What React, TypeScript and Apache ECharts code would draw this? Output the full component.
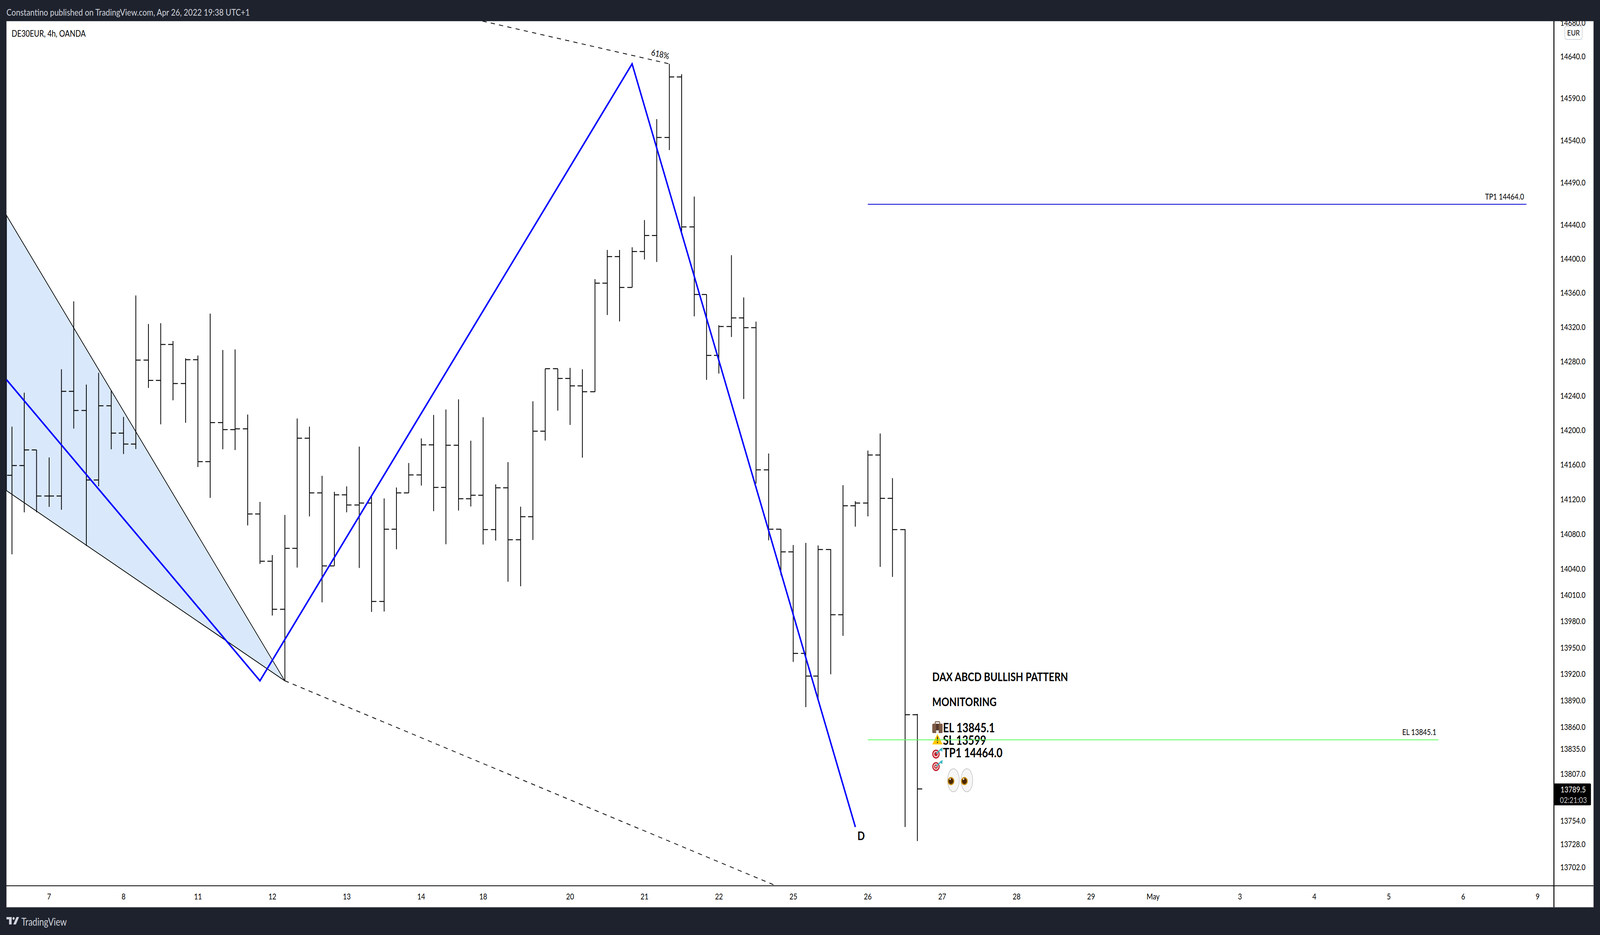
import { useEffect, useRef } from 'react'
import * as echarts from 'echarts'

// 4h bars, one per x index
const opens = [
  14147.4, 14158.5, 14176.8, 14123.6, 14123.6, 14244.9, 14222.3, 14142.0, 14227.9, 14196.0,
  14183.4, 14280.9, 14257.4, 14299.3, 14253.7, 14281.6, 14163.0, 14208.2, 14200.2, 14201.0,
  14102.6, 14048.3, 13993.6, 14063.1, 14190.4, 14127.0, 14043.2, 14124.7, 14113.0, 14115.2,
  14002.3, 14085.1, 14127.2, 14147.7, 14182.5, 14133.5, 14182.2, 14120.2, 14124.3, 14084.6,
  14132.8, 14073.2, 14099.7, 14198.4, 14271.0, 14259.8, 14251.2, 14244.1, 14371.0, 14402.2,
  14366.2, 14408.5, 14427.0, 14543.0, 14615.0, 14437.5, 14358.0, 14286.6, 14320.3, 14330.2,
  14318.9, 14153.5, 14085.3, 14059.2, 13943.3, 13917.5, 14061.7, 13987.3, 14112.2, 14115.4,
  14171.0, 14120.9, 14084.6, 13873.6,
]
const highs = [
  14203.7, 14243.1, 14176.8, 14168.0, 14270.4, 14349.8, 14252.6, 14266.3, 14245.8, 14215.0,
  14356.7, 14323.3, 14324.2, 14303.4, 14283.2, 14286.5, 14335.4, 14292.9, 14293.5, 14217.7,
  14116.7, 14055.5, 14101.7, 14213.2, 14203.7, 14146.8, 14128.3, 14134.6, 14180.6, 14123.4,
  14120.7, 14133.3, 14161.6, 14190.1, 14217.3, 14223.6, 14235.4, 14187.4, 14214.6, 14136.9,
  14162.6, 14111.2, 14233.1, 14271.0, 14271.0, 14272.0, 14270.4, 14375.8, 14410.2, 14410.2,
  14413.3, 14445.3, 14564.9, 14630.8, 14618.5, 14473.1, 14358.0, 14321.8, 14404.0, 14354.4,
  14326.1, 14172.6, 14085.3, 14067.1, 14069.5, 14066.6, 14062.4, 14136.0, 14117.6, 14176.0,
  14195.7, 14144.1, 14085.3, 13874.4,
]
const lows = [
  14056.4, 14104.7, 14104.7, 14111.0, 14107.6, 14201.5, 14065.9, 14134.6, 14177.5, 14172.0,
  14177.7, 14248.7, 14206.4, 14234.3, 14208.2, 14157.0, 14121.3, 14177.5, 14176.6, 14089.6,
  14045.4, 13986.3, 13911.6, 14041.2, 14100.0, 14001.4, 14043.2, 14104.7, 14040.7, 13990.4,
  13990.9, 14062.2, 14127.2, 14135.5, 14106.0, 14068.0, 14106.7, 14111.4, 14067.6, 14072.2,
  14024.9, 14019.8, 14072.9, 14187.6, 14222.3, 14205.7, 14167.8, 14244.1, 14333.8, 14326.3,
  14366.2, 14398.9, 14396.0, 14528.2, 14430.1, 14332.2, 14258.1, 14265.4, 14308.1, 14235.8,
  14137.8, 14072.5, 14032.3, 13933.4, 13882.1, 13892.0, 13919.3, 13963.1, 14088.2, 14100.0,
  14042.0, 14030.5, 13746.8, 13731.0,
]
const closes = [
  14158.5, 14176.8, 14123.6, 14123.6, 14244.9, 14222.3, 14142.0, 14227.9, 14196.0, 14183.4,
  14280.9, 14257.4, 14299.3, 14253.7, 14281.6, 14163.0, 14208.2, 14200.2, 14201.0, 14102.6,
  14048.3, 13993.6, 14063.1, 14190.4, 14127.0, 14043.2, 14124.7, 14113.0, 14115.2, 14002.3,
  14085.1, 14127.2, 14147.7, 14182.5, 14133.5, 14182.2, 14120.2, 14124.3, 14084.6, 14132.8,
  14073.2, 14099.7, 14198.4, 14271.0, 14259.8, 14251.2, 14244.1, 14371.0, 14402.2, 14366.2,
  14408.5, 14427.0, 14543.0, 14615.0, 14437.5, 14358.0, 14286.6, 14320.3, 14330.2, 14318.9,
  14153.5, 14085.3, 14059.2, 13943.3, 13917.5, 14061.7, 13987.3, 14112.2, 14115.4, 14171.0,
  14120.9, 14084.6, 13873.6, 13789.5,
]

const priceTicks = [
  14680, 14640, 14590, 14540, 14490, 14440, 14400, 14360, 14320, 14280, 14240, 14200, 14160,
  14120, 14080, 14040, 14010, 13980, 13950, 13920, 13890, 13860, 13835, 13807, 13754, 13728, 13702,
]
const timeTickIndex = [3, 9, 15, 21, 27, 33, 38, 45, 51, 57, 63, 69, 75, 81, 87, 92, 99, 105, 111, 117, 123]
const timeTickLabels = ['7', '8', '11', '12', '13', '14', '18', '20', '21', '22', '25', '26', '27', '28', '29', 'May', '3', '4', '5', '6', '9']

// drawings on the chart, in bar index / price
const abcdX = [-0.435, 20, 50, 68]
const abcdY = [14258.3, 13912, 14630.8, 13746.8]
const wedgeX = [-0.435, -0.435, 22]
const wedgeY = [14450.9, 14129.7, 13912]
const lowerDashX = [22, 61.6]
const lowerDashY = [13912, 13681]
const upperDashX = [37.94, 53]
const upperDashY = [14682, 14630.8]
const tpX = [69, 122.1]
const tpPrice = 14464
const elX = [69, 115]
const elPrice = 13845.1

const WIDTH = 4948
const HEIGHT = 2394
const FONT = 'Lato, "Open Sans", sans-serif'
const DARK = '#1e222d'

const text = (t: string, x: number, y: number, size: number, opts: any = {}) => ({
  type: 'text',
  x,
  y,
  z: opts.z ?? 1,
  rotation: opts.rotation ?? 0,
  style: {
    text: t,
    fill: opts.fill ?? '#000',
    font: `${opts.weight ?? 'normal'} ${size}px ${FONT}`,
    align: opts.align ?? 'left',
    verticalAlign: 'middle',
  },
})

const target = (cy: number) => ({
  type: 'group',
  z: 1,
  children: [
    { type: 'circle', z: 1, shape: { cx: 2894.5, cy, r: 11.5 }, style: { fill: '#c4202c' } },
    { type: 'circle', z: 1, shape: { cx: 2894.5, cy, r: 8 }, style: { fill: '#f4eeee' } },
    { type: 'circle', z: 1, shape: { cx: 2894.5, cy, r: 5.5 }, style: { fill: '#c4202c' } },
    { type: 'circle', z: 1, shape: { cx: 2894.5, cy, r: 2.5 }, style: { fill: '#f4eeee' } },
    { type: 'line', z: 1, shape: { x1: 2895, y1: cy - 1, x2: 2910, y2: cy - 12 }, style: { stroke: '#3db7c4', lineWidth: 3 } },
    { type: 'polygon', z: 1, shape: { points: [[2905, cy - 12], [2915, cy - 17], [2914, cy - 6]] }, style: { fill: '#3db7c4' } },
  ],
})

const eye = (cx: number) => ({
  type: 'group',
  z: 1,
  children: [
    { type: 'ellipse', z: 1, shape: { cx, cy: 1997.7, rx: 18, ry: 29.5 }, style: { fill: '#f6f6f6', stroke: '#bcbcbc', lineWidth: 1.5 } },
    { type: 'circle', z: 1, shape: { cx: cx - 7.6, cy: 2000, r: 10.5 }, style: { fill: '#c8920f' } },
    { type: 'circle', z: 1, shape: { cx: cx - 7.6, cy: 2000, r: 7.5 }, style: { fill: '#4a2600' } },
    { type: 'circle', z: 1, shape: { cx: cx - 10, cy: 1995, r: 2 }, style: { fill: '#fff' } },
  ],
})

const graphicElements: any[] = [
  // white panel behind plot and axes, dark frame on top of clipped labels
  { type: 'rect', z: -1, shape: { x: 20, y: 54, width: 4908, height: 2269 }, style: { fill: '#fff', stroke: '#8a8d96', lineWidth: 1 } },
  { type: 'rect', z: 10, shape: { x: 0, y: 0, width: WIDTH, height: 54 }, style: { fill: DARK } },
  { type: 'rect', z: 3, shape: { x: 4805, y: 2267, width: 123, height: 2 }, style: { fill: '#000' } },
  { type: 'rect', z: 3, shape: { x: 4804, y: 2268, width: 3, height: 55 }, style: { fill: '#000' } },

  text('Constantino published on TradingView.com, Apr 26, 2022 19:38 UTC+1', 20, 31, 24, { fill: '#d1d4dc', z: 11 }),
  text('DE30EUR, 4h, OANDA', 36, 85, 22.5),
  text('TradingView', 66, 2360, 26, { fill: '#d1d4dc' }),
  { type: 'rect', z: 1, shape: { x: 20, y: 2348, width: 16, height: 6 }, style: { fill: '#d1d4dc' } },
  { type: 'rect', z: 1, shape: { x: 28, y: 2348, width: 8, height: 19 }, style: { fill: '#d1d4dc' } },
  { type: 'circle', z: 1, shape: { cx: 42, cy: 2351.5, r: 3.5 }, style: { fill: '#d1d4dc' } },
  { type: 'polygon', z: 1, shape: { points: [[51, 2348], [59, 2348], [49, 2367], [41, 2367]] }, style: { fill: '#d1d4dc' } },

  // EUR badge and last price
  { type: 'rect', z: 11, shape: { x: 4839, y: 67, width: 54, height: 34, r: 6 }, style: { fill: '#fff', stroke: '#d1d4dc', lineWidth: 2 } },
  text('EUR', 4866, 83, 20, { align: 'center', z: 12 }),
  { type: 'rect', z: 4, shape: { x: 4806, y: 2006, width: 114, height: 56, r: [0, 3, 3, 0] }, style: { fill: '#000' } },
  text('13789.5', 4826, 2021, 21, { fill: '#fff', z: 5 }),
  text('02:21:03', 4824, 2048, 21, { fill: '#c4c4c4', z: 5 }),

  // labels of the drawings
  text('618%', 2042, 138, 22, { align: 'center', rotation: -0.187 }),
  text('TP1 14464.0', 4713, 503, 21, { align: 'right' }),
  text('EL 13845.1', 4442, 1874, 21, { align: 'right' }),
  text('D', 2663, 2140, 30, { align: 'center', weight: 'bold' }),
  text('DAX ABCD BULLISH PATTERN', 2883, 1733, 30, { weight: 'bold' }),
  text('MONITORING', 2883, 1797, 30, { weight: 'bold' }),
  text('EL 13845.1', 2916, 1862, 32, { weight: 'bold' }),
  text('SL 13599', 2916, 1894, 32, { weight: 'bold' }),
  text('TP1 14464.0', 2916, 1926, 32, { weight: 'bold' }),

  // briefcase, warning sign, darts and eyes
  { type: 'rect', z: 1, shape: { x: 2892, y: 1848, width: 14, height: 7, r: 2 }, style: { fill: 'none', stroke: '#7a5a44', lineWidth: 2.5 } },
  { type: 'rect', z: 1, shape: { x: 2883, y: 1853, width: 32, height: 24, r: 3 }, style: { fill: '#7d5a45' } },
  { type: 'rect', z: 1, shape: { x: 2895, y: 1853, width: 8, height: 18 }, style: { fill: '#55382a' } },
  { type: 'rect', z: 1, shape: { x: 2895, y: 1870, width: 8, height: 7 }, style: { fill: '#eee' } },
  { type: 'polygon', z: 1, shape: { points: [[2899, 1879], [2915, 1906], [2883, 1906]] }, style: { fill: '#ffc800' } },
  { type: 'rect', z: 1, shape: { x: 2898, y: 1886, width: 2.5, height: 11 }, style: { fill: '#222' } },
  { type: 'circle', z: 1, shape: { cx: 2899.2, cy: 1901, r: 1.6 }, style: { fill: '#222' } },
  target(1930.7),
  target(1962.7),
  eye(2948.5),
  eye(2990),
]

const ohlcData = closes.map((c, i) => [i, opens[i], highs[i], lows[i], c])

const renderBar = (_params: any, api: any) => {
  const i = api.value(0)
  const open = api.coord([i, api.value(1)])
  const high = api.coord([i, api.value(2)])
  const low = api.coord([i, api.value(3)])
  const close = api.coord([i, api.value(4)])
  const x = Math.round(high[0])
  const style = { stroke: '#000', lineWidth: 2.4, fill: 'none' }
  return {
    type: 'group',
    children: [
      { type: 'line', shape: { x1: x, y1: high[1], x2: x, y2: low[1] }, style },
      { type: 'line', shape: { x1: x - 15, y1: Math.round(open[1]), x2: x, y2: Math.round(open[1]) }, style },
      { type: 'line', shape: { x1: x, y1: Math.round(close[1]), x2: x + 15, y2: Math.round(close[1]) }, style },
    ],
  }
}

const renderWedge = (_params: any, api: any) => ({
  type: 'polygon',
  shape: { points: wedgeX.map((x, i) => api.coord([x, wedgeY[i]])) },
  style: { fill: '#d9e8fb', stroke: '#000', lineWidth: 2 },
})

const zip = (xs: number[], ys: number[]) => xs.map((x, i) => [x, ys[i]])

const lineSeries = (name: string, data: number[][], lineStyle: any) => ({
  name,
  type: 'line',
  data,
  symbol: 'none',
  silent: true,
  lineStyle,
  z: 3,
})

export default function App() {
  const chartRef = useRef<HTMLDivElement>(null)

  useEffect(() => {
    if (!chartRef.current) return
    document.body.style.margin = '0'
    // the browser caps the window below the chart's width, so squeeze it to fit
    const scaleX = Math.min(1, window.innerWidth / WIDTH)
    chartRef.current.style.transform = `scaleX(${scaleX})`
    const chart = echarts.init(chartRef.current, undefined, { renderer: 'svg' })

    chart.setOption({
      animation: false,
      backgroundColor: DARK,
      textStyle: { fontFamily: FONT },
      grid: { left: 20, top: 54, width: 4785, height: 2214 },
      xAxis: {
        type: 'value',
        min: -0.435,
        max: 124.3,
        axisLine: { show: true, onZero: false, lineStyle: { color: '#000', width: 2 } },
        axisTick: { show: false },
        splitLine: { show: false },
        axisLabel: {
          color: '#000',
          fontSize: 21,
          margin: 16,
          customValues: timeTickIndex,
          formatter: (v: number) => timeTickLabels[timeTickIndex.indexOf(v)] ?? '',
        },
      },
      yAxis: {
        type: 'log',
        position: 'right',
        min: 13681,
        max: 14682,
        axisLine: { show: true, onZero: false, lineStyle: { color: '#000', width: 3 } },
        axisTick: { show: false },
        splitLine: { show: false },
        axisLabel: {
          color: '#000',
          fontSize: 21,
          margin: 20,
          align: 'left',
          customValues: priceTicks,
          formatter: (v: number) => Number(v).toFixed(1),
        },
      },
      graphic: { elements: graphicElements },
      series: [
        { name: 'wedge', type: 'custom', renderItem: renderWedge, data: [[0]], silent: true, z: 1 },
        {
          name: 'DE30EUR',
          type: 'custom',
          renderItem: renderBar,
          data: ohlcData,
          encode: { x: 0, y: [1, 2, 3, 4] },
          silent: true,
          z: 2,
        },
        lineSeries('abcd', zip(abcdX, abcdY), { color: '#0000ff', width: 4.5, join: 'miter' }),
        lineSeries('lower', zip(lowerDashX, lowerDashY), { color: '#000', width: 2, type: [13, 13] }),
        lineSeries('upper', zip(upperDashX, upperDashY), { color: '#000', width: 2, type: [13, 13] }),
        lineSeries('TP1', zip(tpX, [tpPrice, tpPrice]), { color: '#0000d8', width: 2 }),
        lineSeries('EL', zip(elX, [elPrice, elPrice]), { color: '#55ff55', width: 2 }),
      ],
    })

    return () => chart.dispose()
  }, [])

  return (
    <div
      ref={chartRef}
      style={{ position: 'absolute', left: 0, top: 0, width: WIDTH, height: HEIGHT, transformOrigin: '0 0' }}
    />
  )
}
